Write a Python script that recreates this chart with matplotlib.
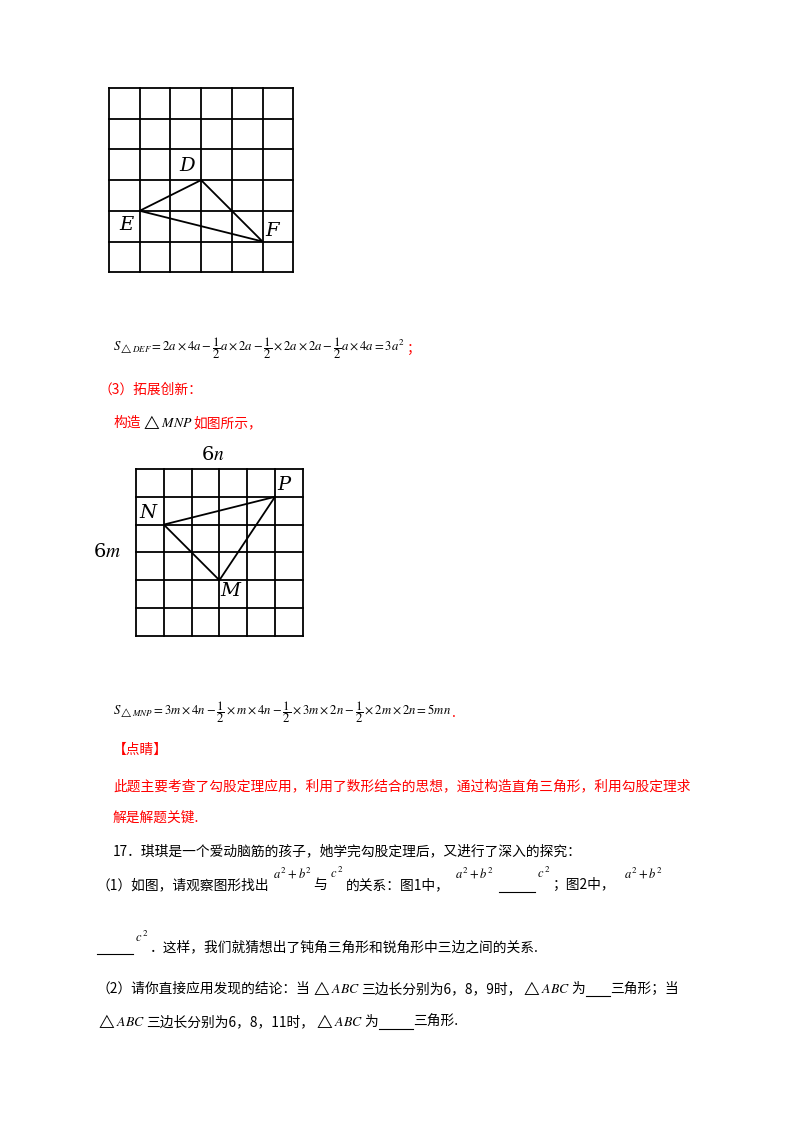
import matplotlib
matplotlib.use("Agg")
import matplotlib.pyplot as plt

plt.rcParams['font.family'] = ['Noto Sans CJK SC', 'DejaVu Sans']
plt.rcParams['mathtext.fontset'] = 'stix'

# grid 1: 6x6, triangle DEF (grid units, col,row from top-left)
g1_n = 6
g1_pts = {'D': (3, 3), 'E': (1, 4), 'F': (5, 5)}
# grid 2: 6x6, triangle MNP
g2_n = 6
g2_pts = {'P': (5, 1), 'N': (1, 2), 'M': (3, 4)}

fig = plt.figure(figsize=(8, 11.32), dpi=100)
ax = fig.add_axes([0, 0, 1, 1])
ax.set_xlim(0, 800); ax.set_ylim(1132, 0); ax.axis('off')
R = fig.canvas.get_renderer()

def grid(x0, y0, cell, n, pts, order, labels):
    for i in range(n + 1):
        ax.plot([x0, x0 + n * cell], [y0 + i * cell] * 2, color='k', lw=1.3)
        ax.plot([x0 + i * cell] * 2, [y0, y0 + n * cell], color='k', lw=1.3)
    xs = [x0 + pts[k][0] * cell for k in order] + [x0 + pts[order[0]][0] * cell]
    ys = [y0 + pts[k][1] * cell for k in order] + [y0 + pts[order[0]][1] * cell]
    ax.plot(xs, ys, color='k', lw=1.3)
    for k, (dx, dy) in labels.items():
        ax.text(x0 + pts[k][0] * cell + dx, y0 + pts[k][1] * cell + dy, k,
                fontsize=14, style='italic', family='DejaVu Serif', ha='center', va='center')

grid(109, 88, 30.7, g1_n, g1_pts, ['D', 'E', 'F'],
     {'D': (-14, -14), 'E': (-13, 14), 'F': (10, -11)})
grid(136, 469, 27.8, g2_n, g2_pts, ['P', 'N', 'M'],
     {'P': (9, -12), 'N': (-16, -12), 'M': (11, 11)})
ax.text(213, 455, '6$n$', fontsize=14, ha='center', va='center', family='DejaVu Serif')
ax.text(107, 552, '6$m$', fontsize=14, ha='center', va='center', family='DejaVu Serif')

fs = 9.9
sup = 9

def chain(x, y, parts):
    """parts: list of (text, dy, fontsize, color) or ('_', width) blank line"""
    for p in parts:
        if p[0] == '_':
            ax.plot([x, x + p[1]], [y + 7, y + 7], color='k', lw=0.8)
            x += p[1]
            continue
        s, dy, f, c = p
        t = ax.text(x, y + dy, s, fontsize=f, va='center', color=c)
        bb = t.get_window_extent(R)
        x += bb.width + 1

chain(113, 348, [(r'$S_{\triangle DEF}=2a\times4a-\dfrac{1}{2}a\times2a-\dfrac{1}{2}\times2a\times2a-\dfrac{1}{2}a\times4a=3a^2$', 0, 9.2, 'k'),
                 ('；', 1, fs, 'red')])
red = 'red'
ax.text(98, 390, '（3）拓展创新：', fontsize=fs, va='center', color=red)
chain(113, 423, [('构造', 0, fs, red), (r'$\triangle MNP$', -1, fs, 'k'), ('如图所示，', 0, fs, red)])
chain(113, 712, [(r'$S_{\triangle MNP}=3m\times4n-\dfrac{1}{2}\times m\times4n-\dfrac{1}{2}\times3m\times2n-\dfrac{1}{2}\times2m\times2n=5mn$', 0, 9.2, 'k'),
                 ('.', 1, fs, red)])
ax.text(113, 750, '【点睛】', fontsize=fs, va='center', color=red)
ax.text(113, 786, '此题主要考查了勾股定理应用，利用了数形结合的思想，通过构造直角三角形，利用勾股定理求',
        fontsize=fs, va='center', color=red)
ax.text(113, 818, '解是解题关键.', fontsize=fs, va='center', color=red)

ax.text(113, 851, '17．琪琪是一个爱动脑筋的孩子，她学完勾股定理后，又进行了深入的探究：', fontsize=fs, va='center')
chain(97, 885, [('（1）如图，请观察图形找出', 0, fs, 'k'), (' $a^2+b^2$ ', -12, sup, 'k'),
                ('与', 0, fs, 'k'), (' $c^2$ ', -12, sup, 'k'), ('的关系：图1中，', 0, fs, 'k'),
                ('  $a^2+b^2$  ', -12, sup, 'k'), ('_', 36), (' $c^2$ ', -12, sup, 'k'),
                ('；图2中，', 0, fs, 'k'), ('   $a^2+b^2$', -12, sup, 'k')])
chain(97, 947, [('_', 36), (' $c^2$ ', -10, sup, 'k'), ('．这样，我们就猜想出了钝角三角形和锐角形中三边之间的关系.', 0, fs, 'k')])
chain(97, 989, [('（2）请你直接应用发现的结论：当', 0, fs, 'k'), (r'$\triangle ABC$', -1, fs, 'k'),
                ('三边长分别为6，8，9时，', 0, fs, 'k'), (r'$\triangle ABC$', -1, fs, 'k'),
                ('为', 0, fs, 'k'), ('_', 24), ('三角形；当', 0, fs, 'k')])
chain(97, 1022, [(r'$\triangle ABC$', -1, fs, 'k'), ('三边长分别为6，8，11时，', 0, fs, 'k'),
                 (r'$\triangle ABC$', -1, fs, 'k'), ('为', 0, fs, 'k'), ('_', 34), ('三角形.', 0, fs, 'k')])

fig.savefig('out.png', dpi=100)
